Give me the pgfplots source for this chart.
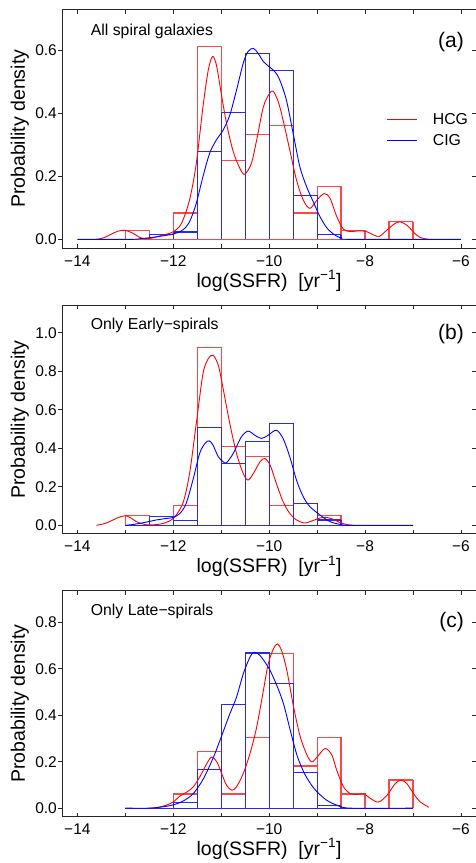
\documentclass[border=0pt]{standalone}
\usepackage{fontspec}
\setmainfont{Liberation Sans}
\usepackage{pgfplots}
\pgfplotsset{compat=1.18}
\definecolor{hred}{RGB}{255,70,70}
\definecolor{hblue}{RGB}{40,40,245}
\pgfplotsset{
  mainax/.style={
    scale only axis, width=414.3pt,
    xmin=-14.32, xmax=-5.68,
    clip mode=individual,
    tick align=inside,
    major tick length=4pt, minor tick length=4pt,
    xtick={-14,-12,-10,-8,-6},
    xticklabels={−14,−12,−10,−8,−6},
    minor xtick={-13,-11,-9,-7},
    xtick pos=both, xticklabel pos=lower,
    ytick pos=right, yticklabel pos=left,
    axis line style={line width=0.9pt, black!85},
    every tick/.style={black!85, line width=0.8pt},
    tick label style={font=\fontsize{15.5}{18}\selectfont, inner sep=0pt},
    xticklabel style={anchor=base, yshift=-18pt},
    yticklabel style={anchor=east, xshift=-5pt},
    label style={font=\fontsize{19.5}{22}\selectfont, inner sep=0pt},
    xlabel={log(SSFR)\ \ [yr\textsuperscript{−1}]},
    ylabel={Probability density},
    xlabel style={at={([yshift=-39pt]axis description cs:0.5,0)}, anchor=base},
    ylabel style={at={([xshift=-37pt]axis description cs:0,0.5)}, anchor=base},
  },
  leftax/.style={
    scale only axis, width=414.3pt,
    xmin=-14.32, xmax=-5.68,
    hide x axis,
    ytick pos=left, tick align=outside,
    major tick length=4pt,
    yticklabels={},
    axis line style={line width=0.9pt, black!85},
    every tick/.style={black!85, line width=0.8pt},
  },
  rstep/.style={draw=hred, line width=1.2pt, const plot, forget plot},
  rcomb/.style={draw=hred, line width=1.2pt, ycomb, forget plot},
  rbase/.style={draw=hred, line width=1.2pt, forget plot},
  bstep/.style={draw=hblue, line width=1.2pt, const plot, forget plot},
  bcomb/.style={draw=hblue, line width=1.2pt, ycomb, forget plot},
  bbase/.style={draw=hblue, line width=1.2pt, forget plot},
  rcurve/.style={red, line width=0.9pt, smooth},
  bcurve/.style={blue, line width=0.9pt, smooth},
}
\begin{document}
\begin{tikzpicture}
% ---------------- Panel (a) ----------------
\begin{axis}[leftax, at={(62pt,-9.5pt)}, anchor=north west, height=238.7pt,
  ymin=-0.028, ymax=0.728, ytick={0,0.2,0.4,0.6}]
\end{axis}
\begin{axis}[mainax, at={(62pt,-9.5pt)}, anchor=north west, height=238.7pt,
  ymin=-0.028, ymax=0.728, ytick={0,0.2,0.4,0.6}, yticklabels={0.0,0.2,0.4,0.6},
  legend image code/.code={\draw[#1] (0pt,0pt) -- (30pt,0pt);},
  legend cell align=left,
  legend style={draw=none, fill=none, inner sep=0pt, outer sep=0pt,
    at={(axis description cs:0.7845,0.5651)}, anchor=north west, row sep=8.7pt,
    font=\fontsize{15.8}{18}\selectfont, nodes={inner sep=0pt}}]
% HCG histogram
\addplot[rbase] coordinates {(-13,0) (-7,0)};
\addplot[rstep] coordinates {(-13,0.0278) (-12.5,0) (-12,0.0833) (-11.5,0.6111) (-11,0.25) (-10.5,0.3333) (-10,0.3611) (-9.5,0.0833) (-9,0.1667) (-8.5,0.0278) (-8,0) (-7.5,0.0556) (-7,0.0556)};
\addplot[rcomb] coordinates {(-13,0.0278) (-12.5,0.0278) (-12,0.0833) (-11.5,0.6111) (-11,0.6111) (-10.5,0.3333) (-10,0.3611) (-9.5,0.3611) (-9,0.1667) (-8.5,0.1667) (-8,0.0278) (-7.5,0.0556) (-7,0.0556)};
% CIG histogram
\addplot[bstep] coordinates {(-12.5,0.0148) (-12,0.023) (-11.5,0.279) (-11,0.402) (-10.5,0.589) (-10,0.534) (-9.5,0.139) (-9,0.0148) (-8.5,0.0148)};
\addplot[bcomb] coordinates {(-12.5,0.0148) (-12,0.023) (-11.5,0.279) (-11,0.402) (-10.5,0.589) (-10,0.589) (-9.5,0.534) (-9,0.139) (-8.5,0.0148)};
% density curves
\addplot[rcurve] coordinates {(-13.6,0) (-13.45,0.005) (-13.3,0.016) (-13.15,0.026) (-13.0,0.0285) (-12.85,0.02) (-12.72,0.008) (-12.6,0.002) (-12.45,0.004) (-12.3,0.01) (-12.15,0.016) (-12.0,0.024) (-11.83,0.05) (-11.66,0.125) (-11.52,0.24) (-11.38,0.42) (-11.27,0.536) (-11.18,0.579) (-11.10,0.552) (-11.0,0.463) (-10.89,0.368) (-10.75,0.278) (-10.61,0.225) (-10.51,0.206) (-10.37,0.241) (-10.26,0.315) (-10.12,0.42) (-10.0,0.46) (-9.92,0.470) (-9.81,0.436) (-9.71,0.378) (-9.57,0.283) (-9.43,0.188) (-9.29,0.125) (-9.15,0.098) (-9.0,0.125) (-8.85,0.145) (-8.73,0.13) (-8.59,0.072) (-8.45,0.032) (-8.31,0.025) (-8.1,0.027) (-7.96,0.024) (-7.82,0.014) (-7.70,0.0095) (-7.54,0.030) (-7.37,0.051) (-7.26,0.055) (-7.12,0.044) (-6.98,0.021) (-6.85,0.006) (-6.67,0)};
\addlegendentry{\hspace*{15pt}HCG}
\addplot[bcurve] coordinates {(-14,0) (-12.9,0) (-12.7,0.002) (-12.5,0.005) (-12.35,0.008) (-12.0,0.017) (-11.8,0.03) (-11.66,0.056) (-11.52,0.114) (-11.38,0.199) (-11.24,0.273) (-11.10,0.315) (-10.96,0.346) (-10.82,0.394) (-10.68,0.473) (-10.54,0.558) (-10.44,0.595) (-10.33,0.605) (-10.23,0.589) (-10.12,0.563) (-10.0,0.547) (-9.88,0.531) (-9.78,0.505) (-9.64,0.441) (-9.50,0.336) (-9.36,0.23) (-9.22,0.167) (-9.08,0.119) (-8.94,0.072) (-8.80,0.037) (-8.65,0.016) (-8.5,0.004) (-8.3,0) (-6,0)};
\addlegendentry{\hspace*{15pt}CIG}
\node[anchor=base west, font=\fontsize{15.8}{18}\selectfont, inner sep=0pt] at ([xshift=28.7pt,yshift=-25.5pt]rel axis cs:0,1) {All spiral galaxies};
\node[anchor=base east, font=\fontsize{21}{24}\selectfont, inner sep=0pt] at ([xshift=-12.3pt,yshift=-37.8pt]rel axis cs:1,1) {(a)};
\end{axis}
% ---------------- Panel (b) ----------------
\begin{axis}[leftax, at={(62pt,-305pt)}, anchor=north west, height=228.8pt,
  ymin=-0.044, ymax=1.144, ytick={0,0.2,0.4,0.6,0.8,1.0}]
\end{axis}
\begin{axis}[mainax, at={(62pt,-305pt)}, anchor=north west, height=228.8pt,
  ymin=-0.044, ymax=1.144, ytick={0,0.2,0.4,0.6,0.8,1.0}, yticklabels={0.0,0.2,0.4,0.6,0.8,1.0}]
\addplot[rbase] coordinates {(-13,0) (-8.5,0)};
\addplot[rstep] coordinates {(-13,0.0513) (-12.5,0) (-12,0.1026) (-11.5,0.9231) (-11,0.4103) (-10.5,0.359) (-10,0.1026) (-9.5,0) (-9,0.0513) (-8.5,0.0513)};
\addplot[rcomb] coordinates {(-13,0.0513) (-12.5,0.0513) (-12,0.1026) (-11.5,0.9231) (-11,0.9231) (-10.5,0.4103) (-10,0.359) (-9.5,0.1026) (-9,0.0513) (-8.5,0.0513)};
\addplot[bbase] coordinates {(-13,0) (-7,0)};
\addplot[bstep] coordinates {(-12.5,0.047) (-12,0.024) (-11.5,0.506) (-11,0.321) (-10.5,0.435) (-10,0.528) (-9.5,0.114) (-9,0.028) (-8.5,0.028)};
\addplot[bcomb] coordinates {(-12.5,0.047) (-12,0.047) (-11.5,0.506) (-11,0.506) (-10.5,0.435) (-10,0.528) (-9.5,0.528) (-9,0.114) (-8.5,0.028)};
\addplot[rcurve] coordinates {(-13.6,0) (-13.45,0.008) (-13.33,0.019) (-13.15,0.04) (-13.0,0.050) (-12.88,0.038) (-12.77,0.019) (-12.62,0.006) (-12.49,0.002) (-12.35,0.004) (-12.21,0.01) (-12.0,0.036) (-11.80,0.114) (-11.66,0.269) (-11.52,0.528) (-11.38,0.788) (-11.27,0.865) (-11.17,0.883) (-11.06,0.831) (-10.96,0.710) (-10.82,0.528) (-10.68,0.373) (-10.54,0.269) (-10.44,0.235) (-10.33,0.269) (-10.19,0.330) (-10.09,0.347) (-9.98,0.313) (-9.85,0.218) (-9.71,0.123) (-9.57,0.062) (-9.43,0.028) (-9.27,0.012) (-9.15,0.019) (-8.94,0.038) (-8.85,0.042) (-8.7,0.035) (-8.5,0.012) (-8.35,0.003) (-8.24,0)};
\addplot[bcurve] coordinates {(-13,0) (-12.85,0.004) (-12.7,0.01) (-12.5,0.02) (-12.35,0.028) (-12.14,0.036) (-12.0,0.041) (-11.86,0.062) (-11.73,0.114) (-11.59,0.235) (-11.45,0.373) (-11.34,0.425) (-11.25,0.439) (-11.17,0.416) (-11.06,0.356) (-10.96,0.330) (-10.89,0.325) (-10.75,0.373) (-10.58,0.459) (-10.44,0.489) (-10.30,0.468) (-10.16,0.451) (-10.02,0.468) (-9.85,0.494) (-9.71,0.451) (-9.57,0.356) (-9.43,0.235) (-9.29,0.149) (-9.15,0.097) (-8.94,0.054) (-8.73,0.019) (-8.5,0.004) (-8.3,0) (-7,0)};
\node[anchor=base west, font=\fontsize{15.8}{18}\selectfont, inner sep=0pt] at ([xshift=28.7pt,yshift=-24.6pt]rel axis cs:0,1) {Only Early−spirals};
\node[anchor=base east, font=\fontsize{21}{24}\selectfont, inner sep=0pt] at ([xshift=-12.3pt,yshift=-34.6pt]rel axis cs:1,1) {(b)};
\end{axis}
% ---------------- Panel (c) ----------------
\begin{axis}[leftax, at={(62pt,-590.7pt)}, anchor=north west, height=225.8pt,
  ymin=-0.036, ymax=0.936, ytick={0,0.2,0.4,0.6,0.8}]
\end{axis}
\begin{axis}[mainax, at={(62pt,-590.7pt)}, anchor=north west, height=225.8pt,
  ymin=-0.036, ymax=0.936, ytick={0,0.2,0.4,0.6,0.8}, yticklabels={0.0,0.2,0.4,0.6,0.8}]
\addplot[rbase] coordinates {(-13,0) (-7,0)};
\addplot[rstep] coordinates {(-12,0.0606) (-11.5,0.2424) (-11,0.0606) (-10.5,0.303) (-10,0.6667) (-9.5,0.1818) (-9,0.303) (-8.5,0.0606) (-8,0) (-7.5,0.1212) (-7,0.1212)};
\addplot[rcomb] coordinates {(-12,0.0606) (-11.5,0.2424) (-11,0.2424) (-10.5,0.303) (-10,0.6667) (-9.5,0.6667) (-9,0.303) (-8.5,0.303) (-8,0.0606) (-7.5,0.1212) (-7,0.1212)};
\addplot[bbase] coordinates {(-13,0) (-7,0)};
\addplot[bstep] coordinates {(-12,0.024) (-11.5,0.166) (-11,0.445) (-10.5,0.668) (-10,0.538) (-9.5,0.153) (-9,0.011) (-8.5,0.011)};
\addplot[bcomb] coordinates {(-12,0.024) (-11.5,0.166) (-11,0.445) (-10.5,0.668) (-10,0.668) (-9.5,0.538) (-9,0.153) (-8.5,0.011)};
\addplot[rcurve] coordinates {(-12.49,0) (-12.35,0.002) (-12.14,0.013) (-12.0,0.027) (-11.86,0.052) (-11.72,0.069) (-11.58,0.092) (-11.44,0.137) (-11.30,0.192) (-11.20,0.220) (-11.09,0.199) (-10.99,0.149) (-10.89,0.099) (-10.78,0.077) (-10.68,0.092) (-10.54,0.149) (-10.40,0.235) (-10.26,0.349) (-10.12,0.507) (-10.02,0.621) (-9.91,0.686) (-9.83,0.707) (-9.74,0.678) (-9.63,0.592) (-9.49,0.435) (-9.35,0.306) (-9.21,0.228) (-9.11,0.199) (-9.0,0.220) (-8.87,0.252) (-8.80,0.255) (-8.69,0.228) (-8.59,0.163) (-8.45,0.092) (-8.31,0.063) (-8.17,0.059) (-8.03,0.062) (-7.89,0.042) (-7.72,0.026) (-7.54,0.056) (-7.37,0.106) (-7.25,0.120) (-7.13,0.106) (-6.99,0.063) (-6.85,0.027) (-6.67,0.004)};
\addplot[bcurve] coordinates {(-13,0) (-12.49,0) (-12.21,0.006) (-12.0,0.014) (-11.79,0.031) (-11.58,0.063) (-11.37,0.127) (-11.16,0.220) (-11.0,0.306) (-10.82,0.406) (-10.68,0.478) (-10.54,0.578) (-10.40,0.650) (-10.31,0.671) (-10.19,0.657) (-10.0,0.600) (-9.84,0.528) (-9.70,0.449) (-9.56,0.335) (-9.42,0.228) (-9.28,0.156) (-9.14,0.106) (-9.0,0.070) (-8.80,0.034) (-8.59,0.013) (-8.31,0) (-7,0)};
\node[anchor=base west, font=\fontsize{15.8}{18}\selectfont, inner sep=0pt] at ([xshift=28.7pt,yshift=-24.6pt]rel axis cs:0,1) {Only Late−spirals};
\node[anchor=base east, font=\fontsize{21}{24}\selectfont, inner sep=0pt] at ([xshift=-12.3pt,yshift=-36.6pt]rel axis cs:1,1) {(c)};
\end{axis}
\pgfresetboundingbox
\path[use as bounding box] (0pt,0pt) rectangle (475pt,-863pt);
\end{tikzpicture}
\end{document}
